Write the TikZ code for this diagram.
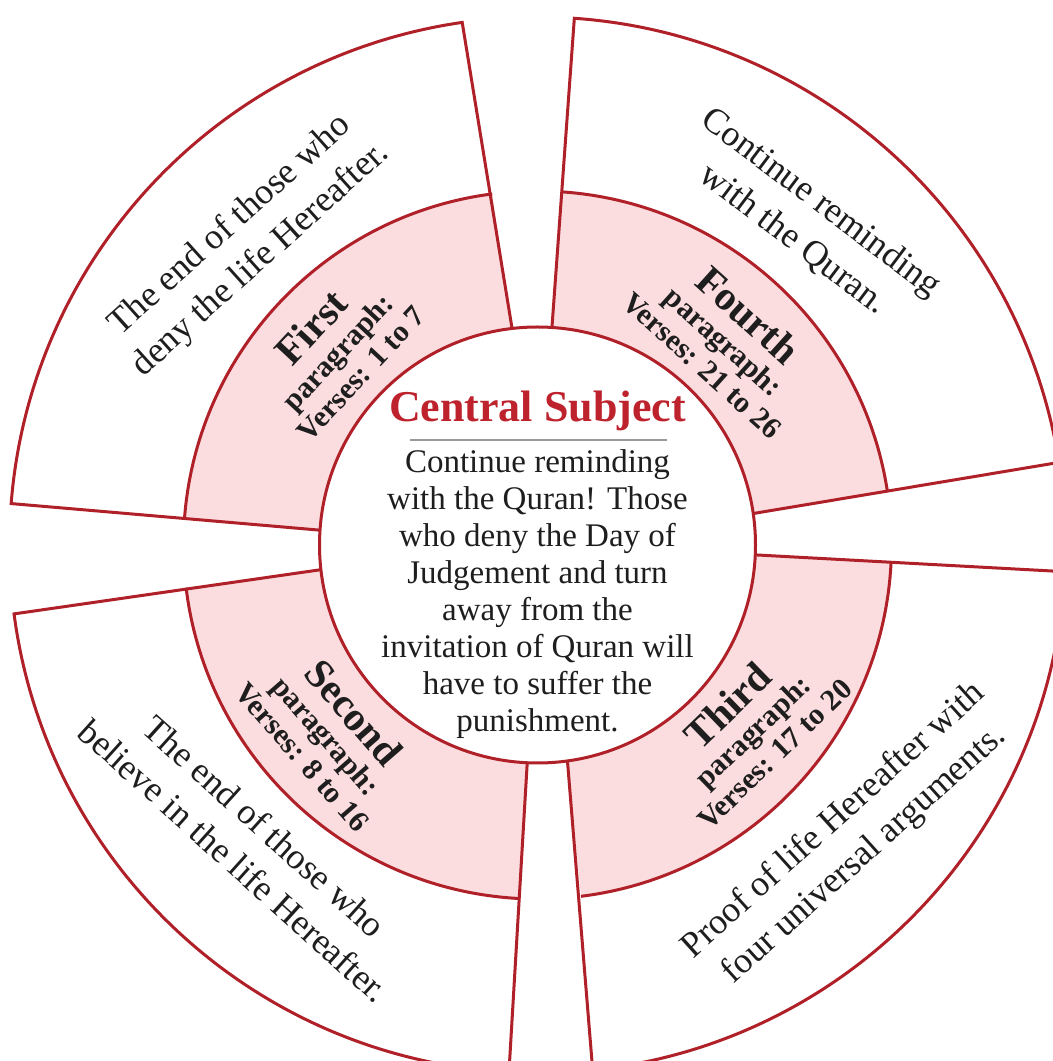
\documentclass[tikz,border=0pt]{standalone}
\usepackage{fontspec}
\setmainfont{Liberation Serif}
\definecolor{lred}{RGB}{176,32,40}
\definecolor{lpink}{RGB}{252,221,223}
\definecolor{ltitle}{RGB}{190,35,45}
\definecolor{ltext}{RGB}{30,30,30}
\newcommand{\hdfont}{\fontsize{20.5}{16}\selectfont\bfseries}
\newcommand{\drawsector}[4]{%
  \pgfmathsetmacro\sectma{#1+0.439*(#3-#1)}%
  \pgfmathsetmacro\sectmb{#2+0.439*(#4-#2)}%
  \fill[lpink] (#1:218) -- (\sectma:354) arc[start angle=\sectma, end angle=\sectmb, radius=354] -- (#2:218) arc[start angle=#2, end angle=#1, radius=218] -- cycle;
  \draw[redline] (#1:218) -- (#3:528) arc[start angle=#3, end angle=#4, radius=528] -- (#2:218);
  \draw[redline] (\sectma:354) arc[start angle=\sectma, end angle=\sectmb, radius=354];
}
\begin{document}
\begin{tikzpicture}[x=0.5pt,y=0.5pt,
  redline/.style={draw=lred, line width=1.5pt, line join=miter},
  outertext/.style={align=center, font=\fontsize{18}{23}\selectfont, text=ltext, inner sep=0pt},
  bandtext/.style={align=center, font=\fontsize{15}{16}\selectfont\bfseries, text=ltext, inner sep=0pt}
]
\useasboundingbox (0,0) rectangle (1053,1061);
\clip (0,0) rectangle (1053,1061);
\fill[white] (0,0) rectangle (1053,1061);
\coordinate (C) at (537.5,516);
\begin{scope}[shift={(C)}]
  % First, Second, Third, Fourth sectors: inner angles, outer angles
  \drawsector{96.7}{176.1}{98.2}{175.5}
  \drawsector{186.5}{267.3}{187.5}{266.9}
  \drawsector{277.9}{357.4}{276}{357.1}
  \drawsector{8.3}{86.2}{9.0}{86.0}
  % central circle
  \draw[redline, fill=white] (0,0) circle[radius=218];
  \node[anchor=base, font=\fontsize{22}{22}\selectfont\bfseries, text=ltitle, inner sep=0pt] (title) at (0,123) {Central Subject};
  \draw[black!40, line width=1pt] (-127.5,105) -- (129.5,105);
  \node[align=center, font=\fontsize{16.5}{18.5}\selectfont, text=ltext, inner sep=0pt] (body) at (0,-48.8)
    {Continue reminding\\with the Quran! Those\\who deny the Day of\\Judgement and turn\\away from the\\invitation of Quran will\\have to suffer the\\punishment.};
  % band labels
  \node[bandtext, rotate=47] (p1) at (136:282) {{\hdfont First}\\paragraph:\\Verses: 1 to 7};
  \node[bandtext, rotate=-49] (p2) at (222.2:280.6) {{\hdfont Second}\\paragraph:\\Verses: 8 to 16};
  \node[bandtext, rotate=44] (p3) at (319.2:280.6) {{\hdfont Third}\\paragraph:\\Verses: 17 to 20};
  \node[bandtext, rotate=-42] (p4) at (47.5:280) {{\hdfont Fourth}\\paragraph:\\Verses: 21 to 26};
  % outer labels
  \node[outertext, rotate=42] (o1) at (134:420) {The end of those who\\deny the life Hereafter.};
  \node[outertext, rotate=-42] (o2) at (226:415) {The end of those who\\believe in the life Hereafter.};
  \node[outertext, rotate=42] (o3) at (316.8:428) {Proof of life Hereafter with\\four universal arguments.};
  \node[outertext, rotate=-37] (o4) at (50.2:421) {Continue reminding\\with the Quran.};
\end{scope}
\end{tikzpicture}
\end{document}
